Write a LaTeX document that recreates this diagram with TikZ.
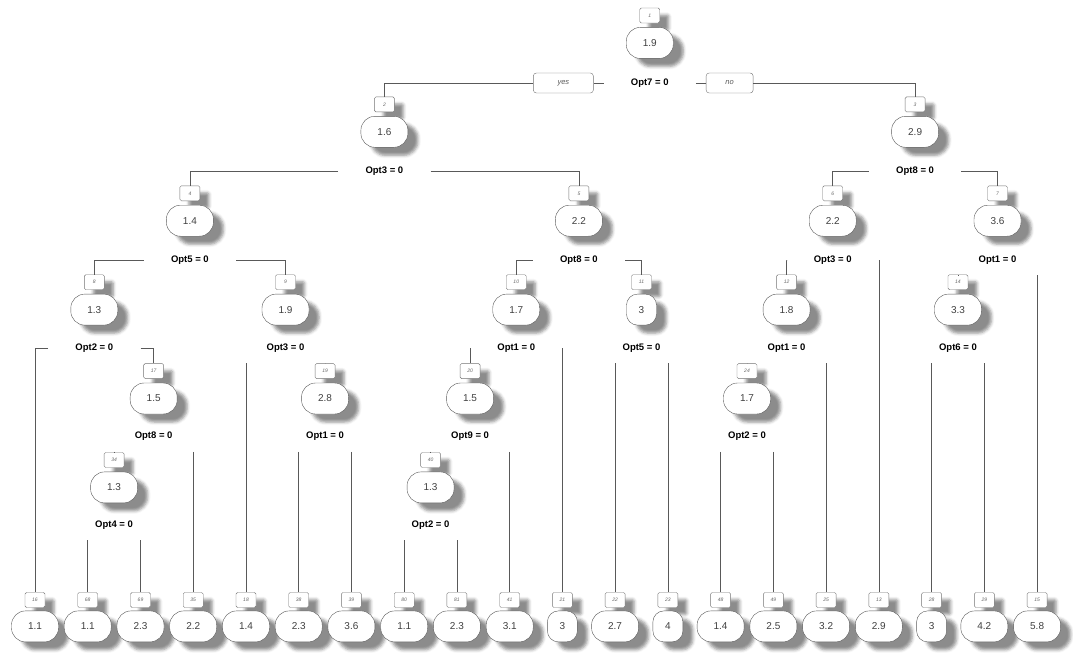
\documentclass[tikz,border=0pt]{standalone}
\usepackage{fontspec}
\setmainfont{Liberation Sans}
\usepackage{tikz}
\usetikzlibrary{positioning, shadows, shadows.blur}

\begin{document}
\begin{tikzpicture}[x=1pt, y=-1pt, every node/.style={font=\fontsize{10}{12}\selectfont},
  numbox/.style={draw=black!55, fill=white, rounded corners=1.5pt, minimum width=20pt, minimum height=15pt, inner sep=0pt,
    font=\fontsize{5}{6}\selectfont\itshape, text=black!60,
    blur shadow={shadow xshift=9pt, shadow yshift=-7pt, shadow blur radius=3pt, shadow opacity=45}},
  valbox/.style={draw=black!65, fill=white, rounded corners=14pt, minimum width=47pt, minimum height=31pt, inner sep=0pt,
    text=black!75, blur shadow={shadow xshift=10pt, shadow yshift=-8pt, shadow blur radius=3pt, shadow opacity=45}},
  slim/.style={minimum width=30pt, rounded corners=11pt},
  splitlab/.style={minimum width=92pt, minimum height=30pt, inner sep=0pt, font=\fontsize{9.5}{11}\selectfont\bfseries},
  ans/.style={draw=black!55, rounded corners=3pt, minimum width=47pt, minimum height=20pt, inner sep=0pt,
    font=\fontsize{7.5}{9}\selectfont\itshape, text=black!65},
  branch/.style={draw=black!65, line width=0.6pt}]
\useasboundingbox (0,0) rectangle (1073,654);

% root
\node[numbox] (b1) at (649.75,15.5) {1};
\node[valbox, below=4pt of b1] (n1) {1.9};
\node[splitlab] (s1) at (649.75,83) {Opt7 = 0};
\node[ans, minimum width=60pt, left=10pt of s1] (yes) {yes};
\node[ans, right=10pt of s1] (no) {no};

% depth 1
\node[numbox] (b2) at (384.4,104.4) {2};
\node[valbox, below=4pt of b2] (n2) {1.6};
\node[splitlab] (s2) at (384.4,171.4) {Opt3 = 0};
\node[numbox] (b3) at (915.1,104.4) {3};
\node[valbox, below=4pt of b3] (n3) {2.9};
\node[splitlab] (s3) at (915.1,171.4) {Opt8 = 0};

% depth 2
\node[numbox] (b4) at (189.9,193.3) {4};
\node[valbox, below=4pt of b4] (n4) {1.4};
\node[splitlab] (s4) at (189.9,259.8) {Opt5 = 0};
\node[numbox] (b5) at (578.9,193.3) {5};
\node[valbox, below=4pt of b5] (n5) {2.2};
\node[splitlab] (s5) at (578.9,259.8) {Opt8 = 0};
\node[numbox] (b6) at (832.7,193.3) {6};
\node[valbox, below=4pt of b6] (n6) {2.2};
\node[splitlab] (s6) at (832.7,259.8) {Opt3 = 0};
\node[numbox] (b7) at (997.5,193.3) {7};
\node[valbox, below=4pt of b7] (n7) {3.6};
\node[splitlab] (s7) at (997.5,259.8) {Opt1 = 0};

% depth 3
\node[numbox] (b8) at (94.3,282.2) {8};
\node[valbox, below=4pt of b8] (n8) {1.3};
\node[splitlab] (s8) at (94.3,348.2) {Opt2 = 0};
\node[numbox] (b9) at (285.5,282.2) {9};
\node[valbox, below=4pt of b9] (n9) {1.9};
\node[splitlab] (s9) at (285.5,348.2) {Opt3 = 0};
\node[numbox] (b10) at (516.25,282.2) {10};
\node[valbox, below=4pt of b10] (n10) {1.7};
\node[splitlab] (s10) at (516.25,348.2) {Opt1 = 0};
\node[numbox] (b11) at (641.5,282.2) {11};
\node[valbox, slim, below=4pt of b11] (n11) {3};
\node[splitlab] (s11) at (641.5,348.2) {Opt5 = 0};
\node[numbox] (b12) at (786.55,282.2) {12};
\node[valbox, below=4pt of b12] (n12) {1.8};
\node[splitlab] (s12) at (786.55,348.2) {Opt1 = 0};
\node[numbox] (b14) at (957.95,282.2) {14};
\node[valbox, below=4pt of b14] (n14) {3.3};
\node[splitlab] (s14) at (957.95,348.2) {Opt6 = 0};

% depth 4
\node[numbox] (b17) at (153.65,371.1) {17};
\node[valbox, below=4pt of b17] (n17) {1.5};
\node[splitlab] (s17) at (153.65,436.6) {Opt8 = 0};
\node[numbox] (b19) at (325.05,371.1) {19};
\node[valbox, below=4pt of b19] (n19) {2.8};
\node[splitlab] (s19) at (325.05,436.6) {Opt1 = 0};
\node[numbox] (b20) at (470.1,371.1) {20};
\node[valbox, below=4pt of b20] (n20) {1.5};
\node[splitlab] (s20) at (470.1,436.6) {Opt9 = 0};
\node[numbox] (b24) at (747,371.1) {24};
\node[valbox, below=4pt of b24] (n24) {1.7};
\node[splitlab] (s24) at (747,436.6) {Opt2 = 0};

% depth 5
\node[numbox] (b34) at (114.1,460) {34};
\node[valbox, below=4pt of b34] (n34) {1.3};
\node[splitlab] (s34) at (114.1,525) {Opt4 = 0};
\node[numbox] (b40) at (430.55,460) {40};
\node[valbox, below=4pt of b40] (n40) {1.3};
\node[splitlab] (s40) at (430.55,525) {Opt2 = 0};

% leaves
\node[numbox] (b16) at (35,600) {16};
\node[valbox, below=3pt of b16] (n16) {1.1};
\node[numbox] (b68) at (87.7,600) {68};
\node[valbox, below=3pt of b68] (n68) {1.1};
\node[numbox] (b69) at (140.5,600) {69};
\node[valbox, below=3pt of b69] (n69) {2.3};
\node[numbox] (b35) at (193.2,600) {35};
\node[valbox, below=3pt of b35] (n35) {2.2};
\node[numbox] (b18) at (246,600) {18};
\node[valbox, below=3pt of b18] (n18) {1.4};
\node[numbox] (b38) at (298.7,600) {38};
\node[valbox, below=3pt of b38] (n38) {2.3};
\node[numbox] (b39) at (351.4,600) {39};
\node[valbox, below=3pt of b39] (n39) {3.6};
\node[numbox] (b80) at (404.2,600) {80};
\node[valbox, below=3pt of b80] (n80) {1.1};
\node[numbox] (b81) at (456.9,600) {81};
\node[valbox, below=3pt of b81] (n81) {2.3};
\node[numbox] (b41) at (509.7,600) {41};
\node[valbox, below=3pt of b41] (n41) {3.1};
\node[numbox] (b21) at (562.4,600) {21};
\node[valbox, slim, below=3pt of b21] (n21) {3};
\node[numbox] (b22) at (615.1,600) {22};
\node[valbox, below=3pt of b22] (n22) {2.7};
\node[numbox] (b23) at (667.9,600) {23};
\node[valbox, slim, below=3pt of b23] (n23) {4};
\node[numbox] (b48) at (720.6,600) {48};
\node[valbox, below=3pt of b48] (n48) {1.4};
\node[numbox] (b49) at (773.4,600) {49};
\node[valbox, below=3pt of b49] (n49) {2.5};
\node[numbox] (b25) at (826.1,600) {25};
\node[valbox, below=3pt of b25] (n25) {3.2};
\node[numbox] (b13) at (878.8,600) {13};
\node[valbox, below=3pt of b13] (n13) {2.9};
\node[numbox] (b28) at (931.6,600) {28};
\node[valbox, slim, below=3pt of b28] (n28) {3};
\node[numbox] (b29) at (984.3,600) {29};
\node[valbox, below=3pt of b29] (n29) {4.2};
\node[numbox] (b15) at (1037.1,600) {15};
\node[valbox, below=3pt of b15] (n15) {5.8};

% branches
\draw[branch] (s1.west) -- (yes.east);
\draw[branch] (yes.west) -| (b2.north);
\draw[branch] (s1.east) -- (no.west);
\draw[branch] (no.east) -| (b3.north);
\draw[branch] (s2.west) -| (b4.north);
\draw[branch] (s2.east) -| (b5.north);
\draw[branch] (s3.west) -| (b6.north);
\draw[branch] (s3.east) -| (b7.north);
\draw[branch] (s4.west) -| (b8.north);
\draw[branch] (s4.east) -| (b9.north);
\draw[branch] (s5.west) -| (b10.north);
\draw[branch] (s5.east) -| (b11.north);
\draw[branch] (s6.west) -| (b12.north);
\draw[branch] (s6.east) -| (b13.north);
\draw[branch] (s7.south -| b14.north) -- (b14.north);
\draw[branch] (s7.south -| b15.north) -- (b15.north);
\draw[branch] (s8.west) -| (b16.north);
\draw[branch] (s8.east) -| (b17.north);
\draw[branch] (s9.south -| b18.north) -- (b18.north);
\draw[branch] (s9.south -| b19.north) -- (b19.north);
\draw[branch] (s10.west) -| (b20.north);
\draw[branch] (s10.east) -| (b21.north);
\draw[branch] (s11.south -| b22.north) -- (b22.north);
\draw[branch] (s11.south -| b23.north) -- (b23.north);
\draw[branch] (s12.south -| b24.north) -- (b24.north);
\draw[branch] (s12.south -| b25.north) -- (b25.north);
\draw[branch] (s14.south -| b28.north) -- (b28.north);
\draw[branch] (s14.south -| b29.north) -- (b29.north);
\draw[branch] (s17.south -| b34.north) -- (b34.north);
\draw[branch] (s17.south -| b35.north) -- (b35.north);
\draw[branch] (s19.south -| b38.north) -- (b38.north);
\draw[branch] (s19.south -| b39.north) -- (b39.north);
\draw[branch] (s20.south -| b40.north) -- (b40.north);
\draw[branch] (s20.south -| b41.north) -- (b41.north);
\draw[branch] (s24.south -| b48.north) -- (b48.north);
\draw[branch] (s24.south -| b49.north) -- (b49.north);
\draw[branch] (s34.south -| b68.north) -- (b68.north);
\draw[branch] (s34.south -| b69.north) -- (b69.north);
\draw[branch] (s40.south -| b80.north) -- (b80.north);
\draw[branch] (s40.south -| b81.north) -- (b81.north);
\end{tikzpicture}
\end{document}
